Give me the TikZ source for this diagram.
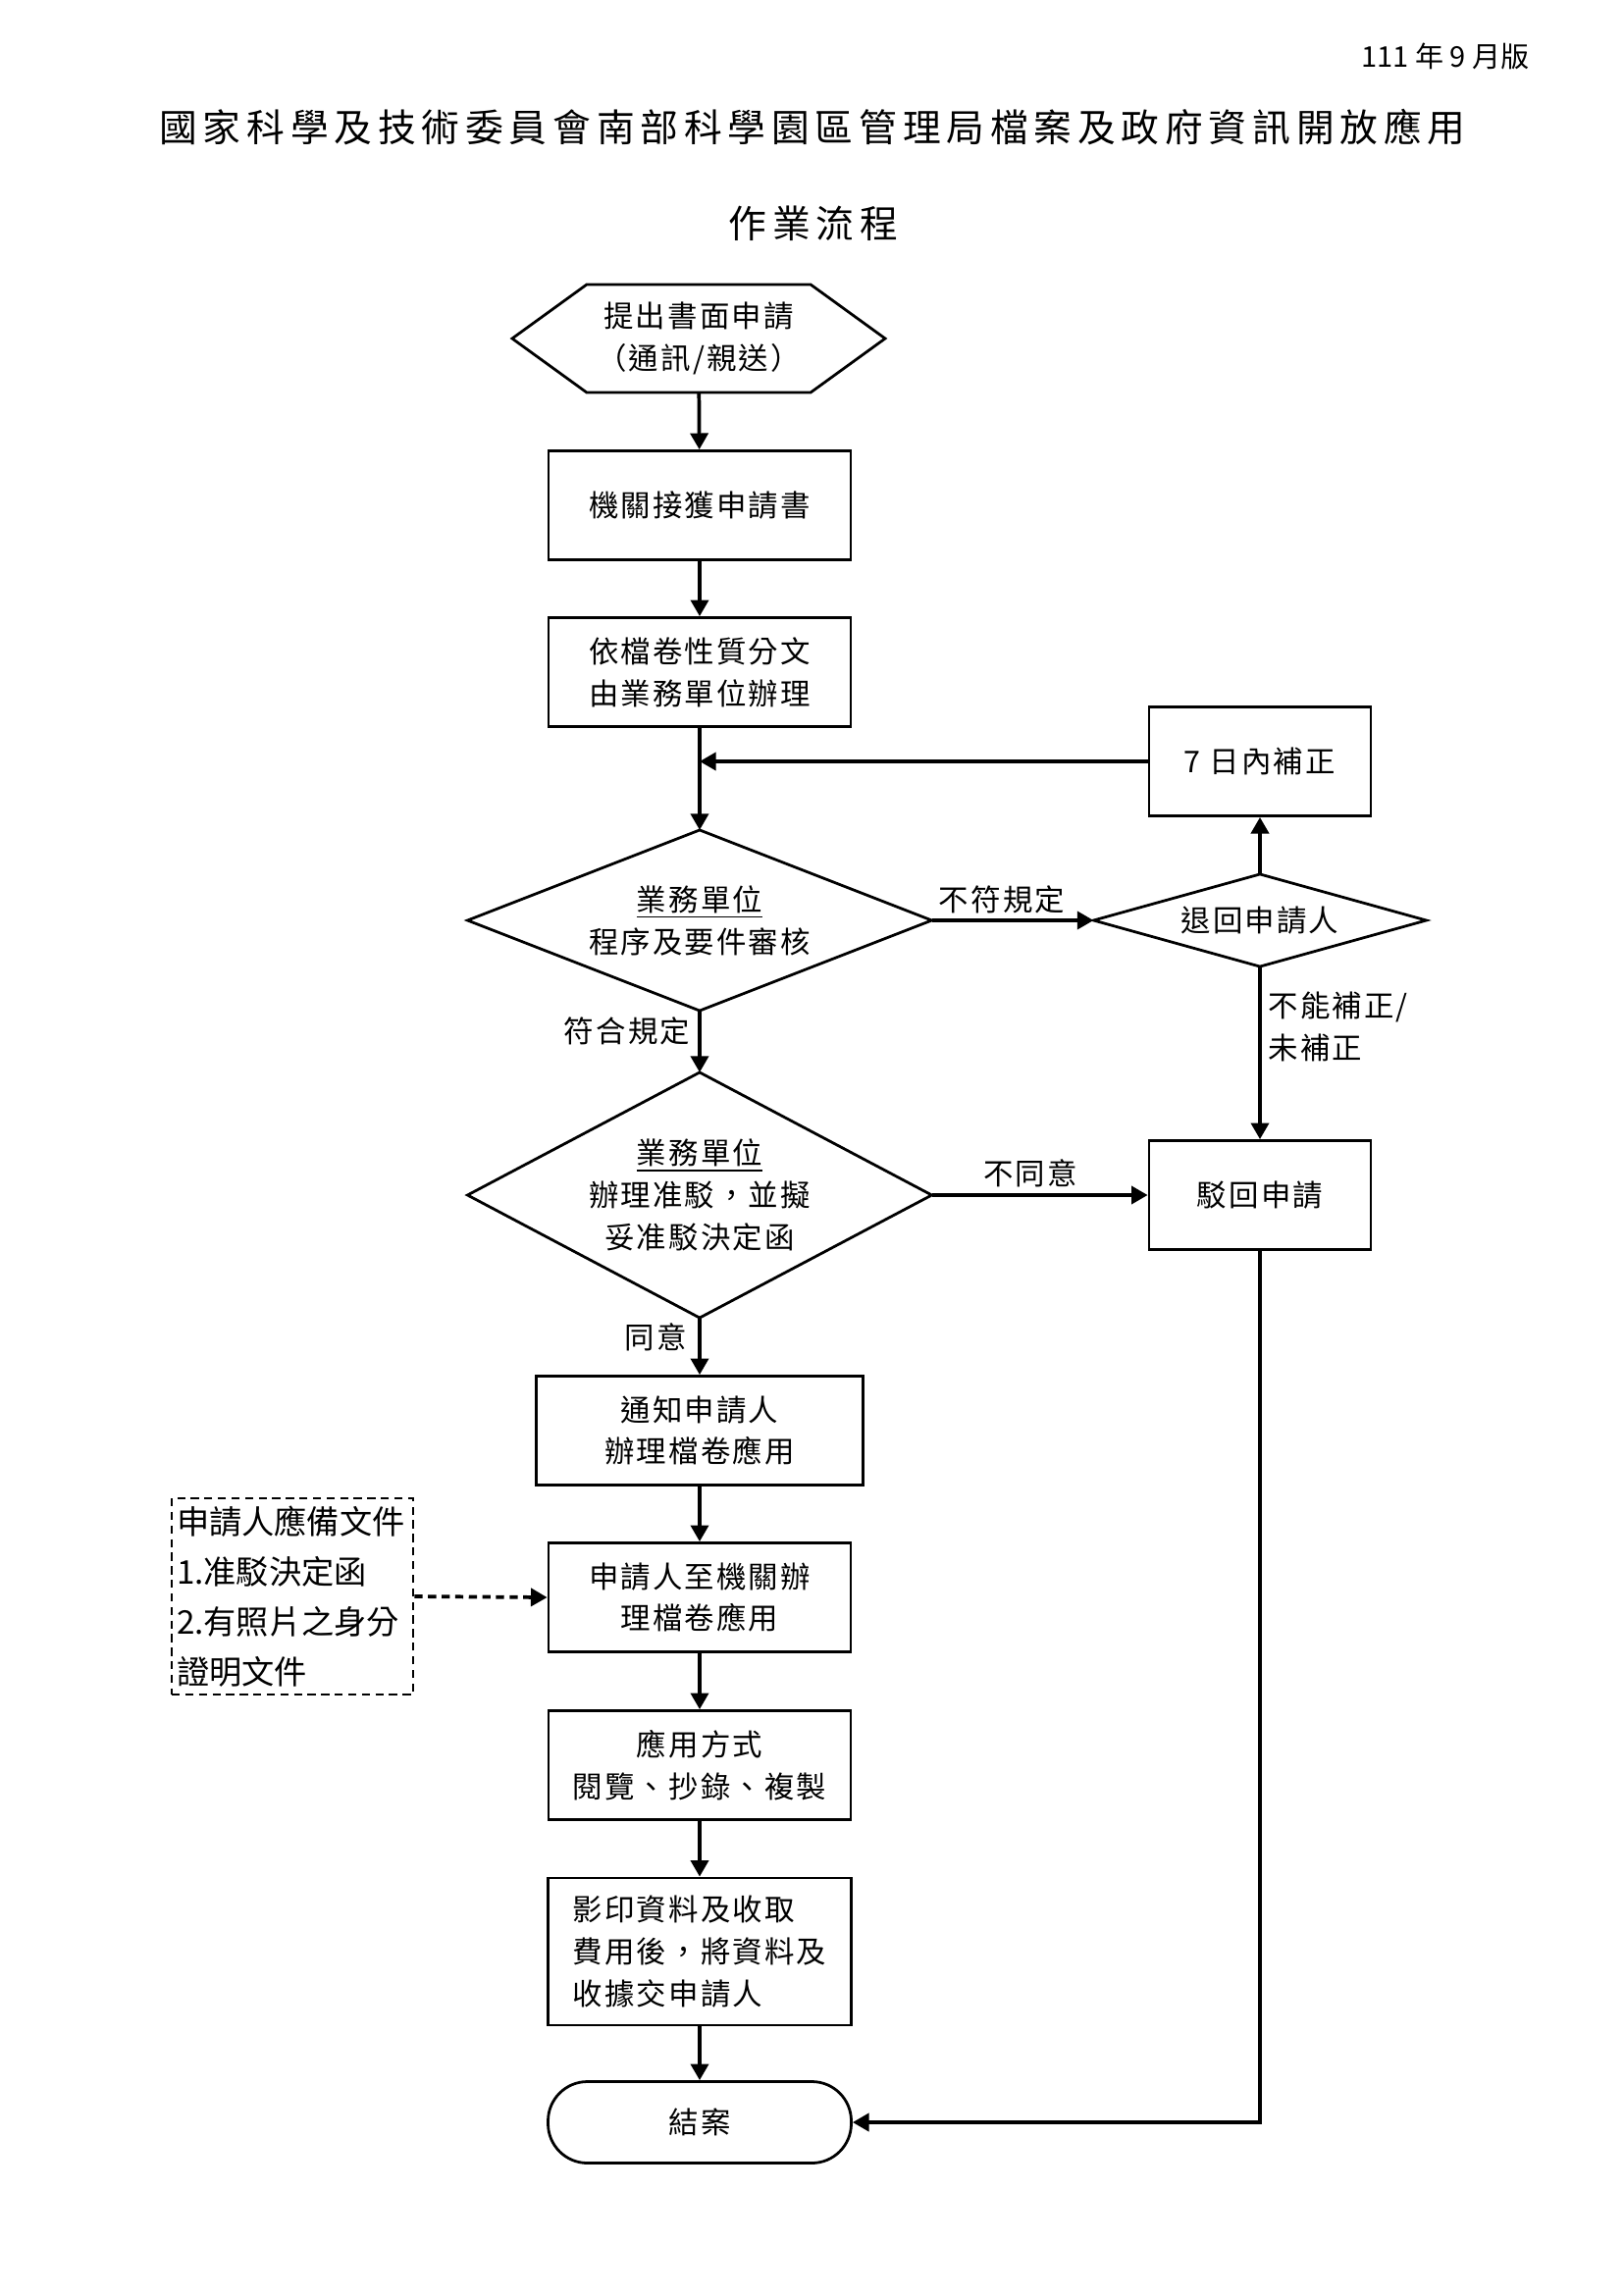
\documentclass[tikz,border=0pt]{standalone}
\usepackage{fontspec}
\setmainfont{Noto Sans CJK TC}
\newfontfamily\cjksp[LetterSpace=7]{Noto Sans CJK TC}
\newfontfamily\cjktitle[LetterSpace=15]{Noto Sans CJK TC}
\usetikzlibrary{arrows.meta}
\newdimen\pxu \pxu=0.12697mm
\begin{document}
\begin{tikzpicture}[x=0.12697mm, y=-0.12697mm,
  txt/.style={font=\cjksp\fontsize{11}{15.5}\selectfont, align=center, inner sep=0pt},
  box/.style={txt, draw, line width=1pt, rectangle, minimum width=308\pxu, minimum height=111\pxu},
  dia/.style={txt, rectangle},
  outline/.style={line width=1pt, line join=miter},
  conn/.style={line width=1.35pt, -{Triangle[length=6pt,width=6.5pt]}},
  lbl/.style={txt}]
\useasboundingbox (0,0) rectangle (1654,2339);

% header and title
\node[inner sep=0pt, font=\fontsize{10.5}{12}\selectfont] (hdr) at (1473,58) {111 年 9 月版};
\node[inner sep=0pt, font=\cjktitle\fontsize{14}{16}\selectfont] (t1) at (828,130) {國家科學及技術委員會南部科學園區管理局檔案及政府資訊開放應用};
\node[inner sep=0pt, font=\cjktitle\fontsize{14}{16}\selectfont] (t2) at (829,228) {作業流程};

% start hexagon
\node[txt, minimum width=379\pxu, minimum height=109\pxu] (start) at (712,345) {提出書面申請\\（通訊/親送）};
\draw[outline] (start.west) -- ([xshift=76\pxu]start.north west) -- ([xshift=-76\pxu]start.north east) -- (start.east) -- ([xshift=-76\pxu]start.south east) -- ([xshift=76\pxu]start.south west) -- cycle;

\node[box] (b1) at (713,515) {機關接獲申請書};
\node[box] (b2) at (713,685) {依檔卷性質分文\\由業務單位辦理};
\node[box, minimum width=226\pxu] (fix) at (1284,776) {7 日內補正};

% decisions
\node[dia, minimum width=472\pxu, minimum height=183\pxu] (d1) at (713,938) {\underline{業務單位}\\程序及要件審核};
\draw[outline] (d1.north) -- (d1.east) -- (d1.south) -- (d1.west) -- cycle;
\node[dia, minimum width=338\pxu, minimum height=93\pxu] (d2) at (1284,938) {退回申請人};
\draw[outline] (d2.north) -- (d2.east) -- (d2.south) -- (d2.west) -- cycle;
\node[dia, minimum width=472\pxu, minimum height=249\pxu] (d3) at (713,1218) {\underline{業務單位}\\辦理准駁，並擬\\妥准駁決定函};
\draw[outline] (d3.north) -- (d3.east) -- (d3.south) -- (d3.west) -- cycle;
\node[box, minimum width=226\pxu] (rej) at (1284,1218) {駁回申請};

\node[box, minimum width=333\pxu] (b3) at (713,1458) {通知申請人\\辦理檔卷應用};
\node[box] (b4) at (713,1628) {申請人至機關辦\\理檔卷應用};
\node[draw, dash pattern=on 3pt off 2pt, line width=1pt, text width=236\pxu, inner xsep=5\pxu, inner ysep=0pt, minimum height=200\pxu, align=left, font=\fontsize{12}{18.4}\selectfont] (docs) at (298,1627) {申請人應備文件\\1.准駁決定函\\2.有照片之身分\\證明文件};
\node[box] (b5) at (713,1799) {應用方式\\閱覽、抄錄、複製};
\node[box, minimum width=309\pxu, minimum height=150\pxu, align=left] (b6) at (713,1989) {影印資料及收取\\費用後，將資料及\\收據交申請人};
\node[box, minimum width=309\pxu, minimum height=83\pxu, rounded corners=14.5pt] (end) at (713,2163) {結案};

% connectors
\draw[conn] (start) -- (b1);
\draw[conn] (b1) -- (b2);
\draw[conn] (b2) -- (d1.north);
\coordinate (join) at (b2.south |- fix.west);
\draw[conn] (fix.west) -- (join);
\draw[conn] (d1.east) -- (d2.west);
\draw[conn] (d2.north) -- (fix.south);
\draw[conn] (d2.south) -- (rej.north);
\draw[conn] (d1.south) -- (d3.north);
\draw[conn] (d3.east) -- (rej.west);
\draw[conn] (d3.south) -- (b3.north);
\draw[conn] (b3) -- (b4);
\draw[conn, dash pattern=on 3pt off 2pt] (docs.east) -- (b4.west);
\draw[conn] (b4) -- (b5);
\draw[conn] (b5) -- (b6);
\draw[conn] (b6) -- (end);
\coordinate (corner) at (rej.south |- end.east);
\draw[conn] (rej.south) -- (corner) -- (end.east);

% labels
\node[lbl] (l1) at (1021,917) {不符規定};
\node[lbl] (l2) at (639,1051) {符合規定};
\node[lbl] (l3) at (1050,1196) {不同意};
\node[lbl] (l4) at (668,1363) {同意};
\node[lbl, anchor=west, align=left] (l5) at (1292,1046) {不能補正/\\未補正};
\end{tikzpicture}
\end{document}
